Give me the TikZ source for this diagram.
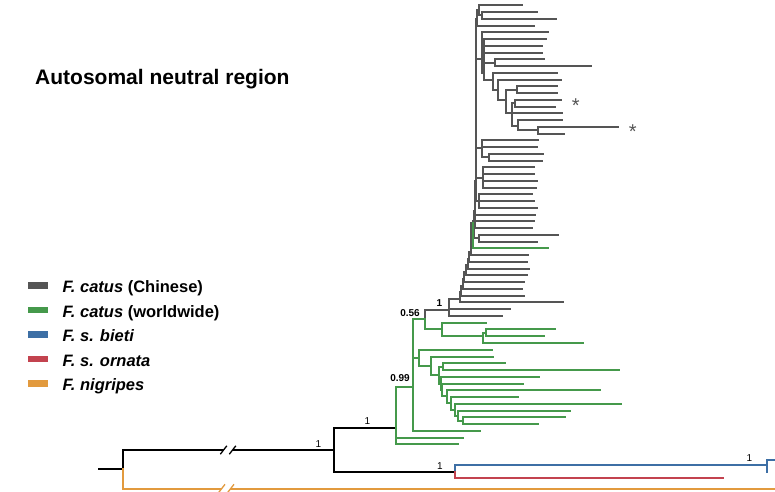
\documentclass[tikz,border=0pt]{standalone}
\usepackage{fontspec}
\setmainfont{Liberation Sans}
\usepackage{xcolor}
\usepackage{tikz}
\usetikzlibrary{positioning}
\definecolor{catgray}{HTML}{555555}
\definecolor{catgreen}{HTML}{45994B}
\definecolor{bietiblue}{HTML}{3D6FA5}
\definecolor{ornatared}{HTML}{C3434F}
\definecolor{nigorange}{HTML}{E29A3E}

\begin{document}
\begin{tikzpicture}[x=1pt, y=-1pt,
  declare function={ty(\i)=round(5.3+6.754*\i);},
  branch/.style={line width=2pt, line cap=rect},
  gline/.style={branch, draw=catgray},
  wline/.style={branch, draw=catgreen},
  bline/.style={branch, draw=black},
  supp/.style={font=\fontsize{10}{12}\selectfont, inner sep=0pt},
  leg/.style={font=\fontsize{16.5}{19}\selectfont\bfseries, inner sep=0pt, anchor=base west},
  swatch/.style={minimum width=20pt, minimum height=6.5pt, inner sep=0pt},
  axbreak/.pic={
    \fill[white] (-8,4.2) -- (-1.5,-4.2) -- (7.5,-4.2) -- (1,4.2) -- cycle;
    \draw[pic actions, line width=1.3pt] (-8,4.2) -- (-1.5,-4.2) (1,4.2) -- (7.5,-4.2);
  }
]
  \useasboundingbox (0,0) rectangle (775,491);
  \fill[white] (0,0) rectangle (775,491);

  % base of the tree
  \coordinate (stub) at (99,469);
  \coordinate (root) at (123,469);
  \coordinate (ncat) at (334,450);
  \coordinate (ngr)  at (396,428);
  \coordinate (nsil) at (455,472);
  \coordinate (bi)   at (767,465);
  \coordinate (bi2)  at (775,460);
  \coordinate (bi3)  at (767,472);
  \coordinate (orn)  at (723,478);
  \coordinate (nig)  at (775,489);

  % inner nodes: name/x/tip row
  \foreach \n/\x/\k in {nT2/481.7/1.5, nT1/479.3/0.75, t9/476.7/2, t8/476.4/6,
      s1/481.7/8, s2/484.3/10, s3/495/8.5, s4/493.3/11, s5/498.3/12.5,
      s6/505.7/14, s7/516.7/12.5, s8/511.7/16, s9/515/14.5, s11/518.3/17.8, s12/538.3/18.5,
      t7/476.1/14, nU1/481.7/21.2, nU2/488.7/22.5, t6/475.8/21, nV/482.5/25.5,
      t5/475.5/26, nW/479.3/29, t4/475.2/28, t3/474.9/29.5, t2/474.6/30.5, t1/474.3/32,
      nS1/478.5/34.5, g9/472.5/32.3, g8/470.7/36.5, g7/469.1/37.5, g6/467.5/38.5,
      g5/465.9/39.5, g4/464.3/40.5, g3/462.7/41.5, g2/461.1/42.5, g1/459.5/43.5,
      ngray/449.3/45.1, ngw3/485.5/48.5, ngw2/483.3/49, ngw/441.7/48, n56/425/46.5,
      wK/462.7/61.5, wJ/458.3/60.75, wI/455/59.9, wH/450.7/58.9, wG/446.7/57.9,
      wF/442/57, wD/440.5/56, wC/442.5/53.5, wB/439.3/54.75, wA/431/53.4,
      wL/419.3/52.2, n99/413/56.5}
    \coordinate (\n) at (\x,{ty(\k)});

  \draw[bline] (stub) -- (root);
  \draw[bline] (root) |- (ncat);
  \draw[bline] (ncat) |- (ngr);
  \draw[bline] (ncat) |- (nsil);
  \draw[branch, draw=nigorange] (root) |- (nig);
  \draw[branch, draw=bietiblue] (nsil) |- (bi);
  \draw[branch, draw=bietiblue] (bi2) -| (bi3);
  \draw[branch, draw=ornatared] (nsil) |- (orn);

  % F. catus (Chinese)
  \foreach \a/\b in {t9/nT1, nT1/nT2, t8/t9, t8/s1, s1/s2, s2/s3, s2/s4, s4/s5,
      s5/s6, s6/s7, s6/s8, s8/s9, s8/s11, s11/s12, t7/t8, t7/nU1, nU1/nU2,
      t6/t7, t6/nV, t5/t6, t5/nW, t4/t5, t3/t4, t2/t3, t1/t2, t1/nS1, g9/t1,
      g8/g9, g7/g8, g6/g7, g5/g6, g4/g5, g3/g4, g2/g3, g1/g2, ngray/g1, n56/ngray}
    \draw[gline] (\a) |- (\b);
  \foreach \p/\k/\x in {nT1/0/522, nT2/1/537, nT2/2/556, t9/3/534, s1/4/548,
      s2/5/546, s2/6/542, s2/7/542, s3/8/544, s3/9/591, s4/10/557, s5/11/561,
      s7/12/557, s7/13/557, s9/14/561, s9/15/555, s8/16/562, s11/17/562,
      s12/18/618, s12/19/564, nU1/20/538, nU1/21/537, nU2/22/543, nU2/23/542,
      nV/24/534, nV/25/534, nV/26/537, nV/27/536, nW/28/532, nW/29/534,
      nW/30/537, t4/31/535, t3/32/534, t2/33/532, nS1/34/558, nS1/35/537,
      g8/37/528, g7/38/527, g6/39/529, g5/40/527, g4/41/524, g3/42/522,
      g2/43/524, g1/44/563, ngray/45/510, ngray/46/502}
    \draw[gline] (\p) |- (\x,{ty(\k)});

  % F. catus (worldwide)
  \foreach \a/\b in {ngr/n99, n99/n56, n56/ngw, ngw/ngw2, ngw2/ngw3, n99/wL,
      wL/wA, wA/wB, wB/wC, wB/wD, wD/wF, wF/wG, wG/wH, wH/wI, wI/wJ, wJ/wK}
    \draw[wline] (\a) |- (\b);
  \foreach \p/\k/\x in {g9/36/548, ngw/47/486, ngw3/48/555, ngw3/49/544,
      ngw2/50/583, wL/51/492, wA/52/493, wC/53/505, wC/54/619, wD/55/539,
      wF/56/523, wG/57/600, wH/58/518, wI/59/621, wJ/60/570, wK/61/565,
      wK/62/538, n99/63/480, ngr/64/463, ngr/65/458}
    \draw[wline] (\p) |- (\x,{ty(\k)});

  \pic[draw=black] (brk1) at (228.3,450) {axbreak};
  \pic[draw=nigorange] (brk2) at (226.5,488.5) {axbreak};

  % support values
  \node[supp, font=\fontsize{10}{12}\selectfont\bfseries] (pp1) at (439.3,302.7) {1};
  \node[supp, font=\fontsize{10}{12}\selectfont\bfseries] (pp056) at (410,312.7) {0.56};
  \node[supp, font=\fontsize{10}{12}\selectfont\bfseries] (pp099) at (400,378.3) {0.99};
  \node[supp] (pp2) at (367.3,420.7) {1};
  \node[supp] (pp3) at (318.3,444.3) {1};
  \node[supp] (pp4) at (440,465.7) {1};
  \node[supp] (pp5) at (749.3,458.3) {1};

  \node[font=\fontsize{20}{22}\selectfont, inner sep=0pt, anchor=base, text=catgray] (star1) at (575.7,112.5) {*};
  \node[font=\fontsize{20}{22}\selectfont, inner sep=0pt, anchor=base, text=catgray] (star2) at (632.7,138.5) {*};

  \node[font=\fontsize{21}{24}\selectfont\bfseries, inner sep=0pt, anchor=base west] (title) at (35,84.5) {Autosomal neutral region};

  % legend
  \node[swatch, fill=catgray] (sw1) at (38.3,285.5) {};
  \node[swatch, fill=catgreen] (sw2) at (38.3,310) {};
  \node[swatch, fill=bietiblue] (sw3) at (38.3,334.5) {};
  \node[swatch, fill=ornatared] (sw4) at (38.3,359) {};
  \node[swatch, fill=nigorange] (sw5) at (38.3,383.5) {};
  \node[leg] (lg1) at (62.5,292.5) {\textit{F. catus} (Chinese)};
  \node[leg] (lg2) at (62.5,317) {\textit{F. catus} (worldwide)};
  \node[leg] (lg3) at (62.5,341.5) {\textit{F. s. bieti}};
  \node[leg] (lg4) at (62.5,366) {\textit{F. s. ornata}};
  \node[leg] (lg5) at (62.5,390.5) {\textit{F. nigripes}};
\end{tikzpicture}
\end{document}
